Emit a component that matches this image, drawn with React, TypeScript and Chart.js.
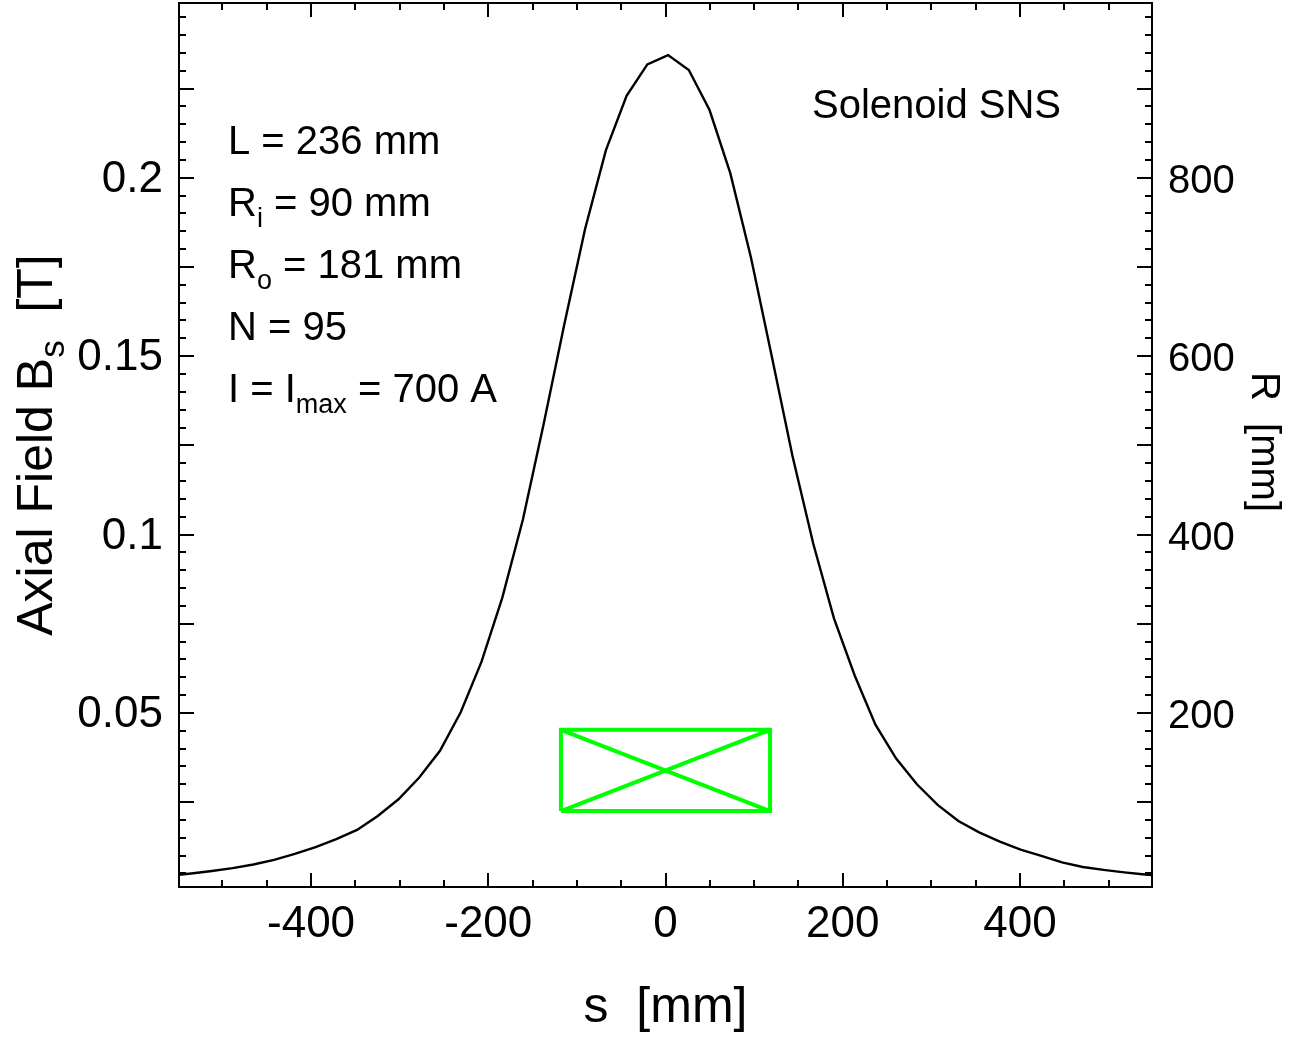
import React, { useEffect, useRef } from 'react';
import { Chart, registerables } from 'chart.js';

Chart.register(...registerables);

// ---- data ----
const S_MM = [
  -558.7, -535.3, -511.9, -488.5, -465.1, -441.7, -418.3, -394.9, -371.5, -348.1,
  -324.7, -301.3, -277.9, -254.5, -231.1, -207.7, -184.3, -160.9, -137.5, -114.1,
  -90.7, -67.3, -43.9, -20.5, 2.9, 26.3, 49.7, 73.1, 96.5, 119.9,
  143.3, 166.7, 190.1, 213.5, 236.9, 260.3, 283.7, 307.1, 330.5, 353.9,
  377.3, 400.7, 424.1, 447.5, 470.9, 494.3, 517.7, 541.1, 564.5,
];
const B_T = [
  0.0044, 0.005, 0.0057, 0.0065, 0.0075, 0.0088, 0.0105, 0.0124, 0.0146, 0.0172,
  0.0211, 0.0258, 0.0319, 0.0394, 0.0502, 0.0643, 0.0822, 0.1042, 0.131, 0.159,
  0.1857, 0.2077, 0.223, 0.2318, 0.2344, 0.2302, 0.219, 0.2013, 0.1776, 0.15,
  0.122, 0.0975, 0.0765, 0.0605, 0.0467, 0.0372, 0.03, 0.0242, 0.0197, 0.0165,
  0.0139, 0.0117, 0.0099, 0.0081, 0.0068, 0.006, 0.0053, 0.0047, 0.0043,
];
const COIL_S = [-118, 118];
const COIL_R = [90, 181];

const X_TICKS = [-400, -200, 0, 200, 400];
const B_TICKS = [0.05, 0.1, 0.15, 0.2];
const R_TICKS = [200, 400, 600, 800];

const X_RANGE = [-549, 549];
const B_RANGE = [0.0012, 0.249];
const R_RANGE = [4.8, 996];

const ANNOT: [string, string, string][] = [
  ['L', '', ' = 236 mm'],
  ['R', 'i', ' = 90 mm'],
  ['R', 'o', ' = 181 mm'],
  ['N', '', ' = 95'],
  ['I = I', 'max', ' = 700 A'],
];
const LABEL_TEXT = 'Solenoid SNS';

const FONT = '"Liberation Sans", Arial, Helvetica, sans-serif';

function multiples(min: number, max: number, step: number): number[] {
  const out: number[] = [];
  const k0 = Math.ceil(min / step - 1e-9);
  const k1 = Math.floor(max / step + 1e-9);
  for (let k = k0; k <= k1; k++) out.push(+(k * step).toFixed(6));
  return out;
}

function drawSubText(ctx: CanvasRenderingContext2D, x: number, y: number, base: string, sub: string, rest: string, size: number, subSize: number, subDrop: number) {
  ctx.font = `${size}px ${FONT}`;
  ctx.fillText(base, x, y);
  let cx = x + ctx.measureText(base).width;
  if (sub) {
    ctx.font = `${subSize}px ${FONT}`;
    ctx.fillText(sub, cx, y + subDrop);
    cx += ctx.measureText(sub).width;
  }
  ctx.font = `${size}px ${FONT}`;
  ctx.fillText(rest, cx, y);
}

const decorPlugin = {
  id: 'decor',
  afterDatasetsDraw(chart: any) {
    const { ctx, chartArea } = chart;
    const { left, right, top, bottom } = chartArea;
    const x = chart.scales.x;
    const y = chart.scales.y;
    const y2 = chart.scales.y2;
    ctx.save();
    ctx.strokeStyle = '#000';
    ctx.lineWidth = 2;
    ctx.lineCap = 'butt';
    // x ticks (top and bottom)
    const xMajor = multiples(X_RANGE[0], X_RANGE[1], 200);
    multiples(X_RANGE[0], X_RANGE[1], 50).forEach((v) => {
      const px = Math.round(x.getPixelForValue(v));
      const len = xMajor.some((m) => Math.abs(m - v) < 1e-6) ? 14 : 7;
      ctx.beginPath();
      ctx.moveTo(px, bottom); ctx.lineTo(px, bottom - len);
      ctx.moveTo(px, top); ctx.lineTo(px, top + len);
      ctx.stroke();
    });
    // left ticks
    const bMajor = multiples(B_RANGE[0], B_RANGE[1], 0.025);
    multiples(B_RANGE[0], B_RANGE[1], 0.005).forEach((v) => {
      const py = Math.round(y.getPixelForValue(v));
      const len = bMajor.some((m) => Math.abs(m - v) < 1e-6) ? 15 : 7;
      ctx.beginPath();
      ctx.moveTo(left, py); ctx.lineTo(left + len, py);
      ctx.stroke();
    });
    // right ticks
    const rMajor = multiples(R_RANGE[0], R_RANGE[1], 100);
    multiples(R_RANGE[0], R_RANGE[1], 20).forEach((v) => {
      const py = Math.round(y2.getPixelForValue(v));
      const len = rMajor.some((m) => Math.abs(m - v) < 1e-6) ? 15 : 7;
      ctx.beginPath();
      ctx.moveTo(right, py); ctx.lineTo(right - len, py);
      ctx.stroke();
    });
    // frame
    ctx.strokeRect(left, top, right - left, bottom - top);

    // annotations
    ctx.fillStyle = '#000';
    ctx.textAlign = 'left';
    ctx.textBaseline = 'alphabetic';
    ANNOT.forEach((a, i) => {
      drawSubText(ctx, left + 49, top + 151 + i * 62, a[0], a[1], a[2], 40, 27, 11);
    });
    ctx.font = `40px ${FONT}`;
    ctx.fillText(LABEL_TEXT, left + 633, top + 115);

    // axis titles
    ctx.textAlign = 'left';
    ctx.font = `50px ${FONT}`;
    const xt = 's  [mm]';
    const xw = ctx.measureText(xt).width;
    ctx.fillText(xt, (left + right) / 2 - xw / 2, 1022);

    // left title, rotated
    ctx.save();
    const cyL = (top + bottom) / 2;
    ctx.translate(52, cyL);
    ctx.rotate(-Math.PI / 2);
    ctx.font = `50px ${FONT}`;
    const p1 = 'Axial Field B';
    const p3 = '  [T]';
    const w1 = ctx.measureText(p1).width;
    const w3 = ctx.measureText(p3).width;
    ctx.font = `35px ${FONT}`;
    const w2 = ctx.measureText('s').width;
    const tot = w1 + w2 + w3;
    let cx = -tot / 2;
    ctx.font = `50px ${FONT}`;
    ctx.fillText(p1, cx, 0);
    cx += w1;
    ctx.font = `35px ${FONT}`;
    ctx.fillText('s', cx, 12);
    cx += w2;
    ctx.font = `50px ${FONT}`;
    ctx.fillText(p3, cx, 0);
    ctx.restore();

    // right title, rotated clockwise
    ctx.save();
    ctx.translate(1252, cyL);
    ctx.rotate(Math.PI / 2);
    ctx.font = `40px ${FONT}`;
    const rt = 'R  [mm]';
    const rw = ctx.measureText(rt).width;
    ctx.fillText(rt, -rw / 2 - 3, 0);
    ctx.restore();

    ctx.restore();
  },
};

export default function App() {
  const ref = useRef<HTMLCanvasElement | null>(null);
  useEffect(() => {
    if (!ref.current) return;
    const curve = S_MM.map((s, i) => ({ x: s, y: B_T[i] }));
    const rect = [
      { x: COIL_S[0], y: COIL_R[0] },
      { x: COIL_S[0], y: COIL_R[1] },
      { x: COIL_S[1], y: COIL_R[1] },
      { x: COIL_S[1], y: COIL_R[0] },
      { x: COIL_S[0], y: COIL_R[0] },
    ];
    const diag1 = [
      { x: COIL_S[0], y: COIL_R[0] },
      { x: COIL_S[1], y: COIL_R[1] },
    ];
    const diag2 = [
      { x: COIL_S[0], y: COIL_R[1] },
      { x: COIL_S[1], y: COIL_R[0] },
    ];
    const green = '#00ff00';
    const lineDs = (data: any[], axis: string, color: string, width: number) => ({
      data,
      yAxisID: axis,
      showLine: true,
      borderColor: color,
      backgroundColor: color,
      borderWidth: width,
      pointRadius: 0,
      tension: 0,
      fill: false,
      borderJoinStyle: 'miter' as const,
    });
    const tickFont = { family: FONT, size: 44 };
    const rFont = { family: FONT, size: 40 };
    const chart = new Chart(ref.current, {
      type: 'scatter',
      data: {
        datasets: [
          lineDs(curve, 'y', '#000', 2.4),
          lineDs(rect, 'y2', green, 4),
          lineDs(diag1, 'y2', green, 4),
          lineDs(diag2, 'y2', green, 4),
        ],
      },
      options: {
        animation: false,
        responsive: false,
        devicePixelRatio: 1,
        layout: { padding: { top: 3, left: 0, right: 0, bottom: 0 } },
        plugins: { legend: { display: false }, tooltip: { enabled: false } },
        scales: {
          x: {
            type: 'linear',
            position: 'bottom',
            min: X_RANGE[0],
            max: X_RANGE[1],
            grid: { display: false, drawTicks: false },
            border: { display: false },
            afterBuildTicks: (s: any) => { s.ticks = X_TICKS.map((value) => ({ value })); },
            afterFit: (s: any) => { s.height = 150; s.paddingLeft = 0; s.paddingRight = 0; },
            ticks: { font: tickFont, color: '#000', padding: 11, maxRotation: 0, autoSkip: false, callback: (v: any) => String(v) },
          },
          y: {
            type: 'linear',
            position: 'left',
            min: B_RANGE[0],
            max: B_RANGE[1],
            grid: { display: false, drawTicks: false },
            border: { display: false },
            afterBuildTicks: (s: any) => { s.ticks = B_TICKS.map((value) => ({ value })); },
            afterFit: (s: any) => { s.width = 179; s.paddingTop = 0; s.paddingBottom = 0; },
            ticks: { font: tickFont, color: '#000', padding: 16, labelOffset: 2, autoSkip: false, callback: (v: any) => String(v) },
          },
          y2: {
            type: 'linear',
            position: 'right',
            min: R_RANGE[0],
            max: R_RANGE[1],
            grid: { display: false, drawTicks: false },
            border: { display: false },
            afterBuildTicks: (s: any) => { s.ticks = R_TICKS.map((value) => ({ value })); },
            afterFit: (s: any) => { s.width = 145; s.paddingTop = 0; s.paddingBottom = 0; },
            ticks: { font: rFont, color: '#000', padding: 16, labelOffset: 4, autoSkip: false, callback: (v: any) => String(v) },
          },
        },
      },
      plugins: [decorPlugin],
    } as any);
    return () => chart.destroy();
  }, []);
  return (
    <div style={{ position: 'fixed', left: 0, top: 0, width: 1297, height: 1037, background: '#fff' }}>
      <canvas ref={ref} width={1297} height={1037} style={{ display: 'block', width: 1297, height: 1037 }} />
    </div>
  );
}
